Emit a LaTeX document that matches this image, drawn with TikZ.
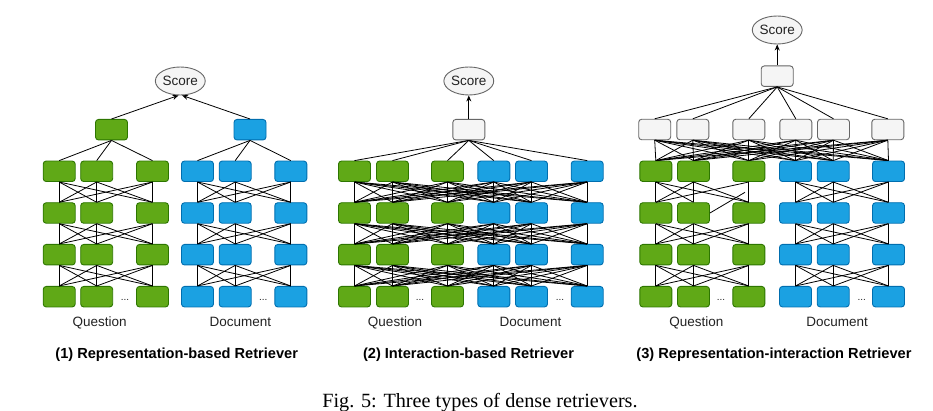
\documentclass[tikz,border=0pt]{standalone}
\usepackage{fontspec}
\setmainfont{Liberation Sans}
\newfontfamily\myserif{Liberation Serif}
\usetikzlibrary{shapes.geometric,arrows.meta}
\definecolor{gfill}{HTML}{60A917}
\definecolor{gdraw}{HTML}{2D7600}
\definecolor{bfill}{HTML}{1BA1E2}
\definecolor{bdraw}{HTML}{006EAF}
\definecolor{wfill}{HTML}{F5F5F5}
\definecolor{wdraw}{HTML}{666666}
\definecolor{txt}{HTML}{222222}
\begin{document}
\begin{tikzpicture}[x=1pt,y=-1pt,
  box/.style={rounded corners=3pt, minimum width=32pt, minimum height=20.5pt, line width=0.9pt, inner sep=0pt},
  gbox/.style={box, fill=gfill, draw=gdraw},
  bbox/.style={box, fill=bfill, draw=bdraw},
  wbox/.style={box, fill=wfill, draw=wdraw},
  scorenode/.style={ellipse, draw=wdraw, fill=wfill, minimum width=41pt, minimum height=28pt, inner sep=0pt, line width=0.9pt, text=txt, font=\fontsize{13.5}{15}\selectfont},
  link/.style={line width=0.8pt, black},
  arr/.style={link, -{Stealth[length=6pt,width=5pt]}},
  lbl/.style={anchor=base, text=txt, inner sep=0pt, font=\fontsize{13.5}{15}\selectfont},
  dotsnode/.style={anchor=base, text=txt, inner sep=0pt, font=\fontsize{10}{12}\selectfont},
  ttl/.style={anchor=base, text=black, inner sep=0pt, font=\fontsize{14.6}{16}\selectfont\bfseries},
  captext/.style={anchor=base, text=black, inner sep=0pt, font=\myserif\fontsize{20.2}{22}\selectfont}
]
\path[use as bounding box] (0,0) rectangle (933,411);

% ---------------- Panel 1 ----------------
\foreach \r/\y in {1/171.3,2/213,3/254.7,4/296.7}{
  \foreach \c/\x in {1/59.2,2/96.7,3/152.5} \node[gbox] (a-\r-\c) at (\x,\y) {};
  \foreach \c/\x in {4/197.5,5/235.2,6/290.8} \node[bbox] (a-\r-\c) at (\x,\y) {};
}
\node[gbox] (a-tg) at (111.5,129.7) {};
\node[bbox] (a-tb) at (250,129.7) {};
\node[scorenode] (a-s) at (180.3,81) {Score};
\foreach \r/\s in {1/2,2/3,3/4}{
  \foreach \i in {1,2,3} \foreach \j in {1,2,3} \draw[link] (a-\r-\i.south) -- (a-\s-\j.north);
  \foreach \i in {4,5,6} \foreach \j in {4,5,6} \draw[link] (a-\r-\i.south) -- (a-\s-\j.north);
}
\foreach \j in {1,2,3} \draw[link] (a-tg.south) -- (a-1-\j.north);
\foreach \j in {4,5,6} \draw[link] (a-tb.south) -- (a-1-\j.north);
\draw[arr] (a-tg.north) -- (a-s.-97);
\draw[arr] (a-tb.north) -- (a-s.-83);
\node[dotsnode] (a-d1) at (125,300) {...};
\node[dotsnode] (a-d2) at (263.3,300) {...};
\node[lbl] (a-q) at (99.7,326.5) {Question};
\node[lbl] (a-doc) at (240.3,326.5) {Document};
\node[ttl] (a-title) at (176.7,358.7) {(1) Representation-based Retriever};

% ---------------- Panel 2 ----------------
\foreach \r/\y in {1/171.3,2/213,3/254.7,4/296.7}{
  \foreach \c/\x in {1/354.5,2/392.5,3/447.5} \node[gbox] (b-\r-\c) at (\x,\y) {};
  \foreach \c/\x in {4/493.8,5/531.5,6/587.2} \node[bbox] (b-\r-\c) at (\x,\y) {};
}
\node[wbox] (b-t) at (468.8,129.7) {};
\node[scorenode] (b-s) at (468.8,81) {Score};
\foreach \r/\s in {1/2,2/3,3/4}{
  \foreach \i in {1,...,6} \foreach \j in {1,...,6} \draw[link] (b-\r-\i.south) -- (b-\s-\j.north);
}
\foreach \j in {1,...,6} \draw[link] (b-t.south) -- (b-1-\j.north);
\draw[arr] (b-t) -- (b-s);
\node[dotsnode] (b-d1) at (420,300) {...};
\node[dotsnode] (b-d2) at (560,300) {...};
\node[lbl] (b-q) at (395,326.5) {Question};
\node[lbl] (b-doc) at (530.5,326.5) {Document};
\node[ttl] (b-title) at (468.5,358.7) {(2) Interaction-based Retriever};

% ---------------- Panel 3 ----------------
\foreach \r/\y in {1/171.3,2/213,3/254.7,4/296.7}{
  \foreach \c/\x in {1/655.8,2/693.5,3/748.8} \node[gbox] (c-\r-\c) at (\x,\y) {};
  \foreach \c/\x in {4/795.5,5/833.2,6/888.5} \node[bbox] (c-\r-\c) at (\x,\y) {};
}
\foreach \c/\x in {1/654.7,2/692.8,3/748.8,4/795.8,5/833.5,6/887.8} \node[wbox] (c-g-\c) at (\x,129.5) {};
\node[wbox] (c-t) at (777.2,76.2) {};
\node[scorenode] (c-s) at (777.2,30) {Score};
\foreach \j in {1,...,6} \draw[link] (c-t.south) -- (c-g-\j.north);
\foreach \i in {1,...,6} \foreach \j in {1,...,6} \draw[link] (c-g-\i.south) -- (c-1-\j.north);
\foreach \r/\s in {1/2,2/3,3/4}{
  \foreach \i in {4,5,6} \foreach \j in {4,5,6} \draw[link] (c-\r-\i.south) -- (c-\s-\j.north);
}
\foreach \r/\s in {2/3,3/4}{
  \foreach \i in {1,2,3} \foreach \j in {1,2,3} \draw[link] (c-\r-\i.south) -- (c-\s-\j.north);
}
\foreach \i/\j in {1/1,1/2,1/3,2/1,2/2,2/3,3/1,3/3} \draw[link] (c-1-\i.south) -- (c-2-\j.north);
\coordinate (c-odd) at (745,192.3);
\draw[link] (c-odd) -- (c-2-2.east);
\draw[arr] (c-t) -- (c-s);
\node[dotsnode] (c-d1) at (721,300) {...};
\node[dotsnode] (c-d2) at (861.7,300) {...};
\node[lbl] (c-q) at (696.3,326.5) {Question};
\node[lbl] (c-doc) at (837.2,326.5) {Document};
\node[ttl] (c-title) at (774,358.7) {(3) Representation-interaction Retriever};

% ---------------- Caption ----------------
\node[captext] (caption) at (480,407) {Fig. 5: Three types of dense retrievers.};
\end{tikzpicture}
\end{document}
